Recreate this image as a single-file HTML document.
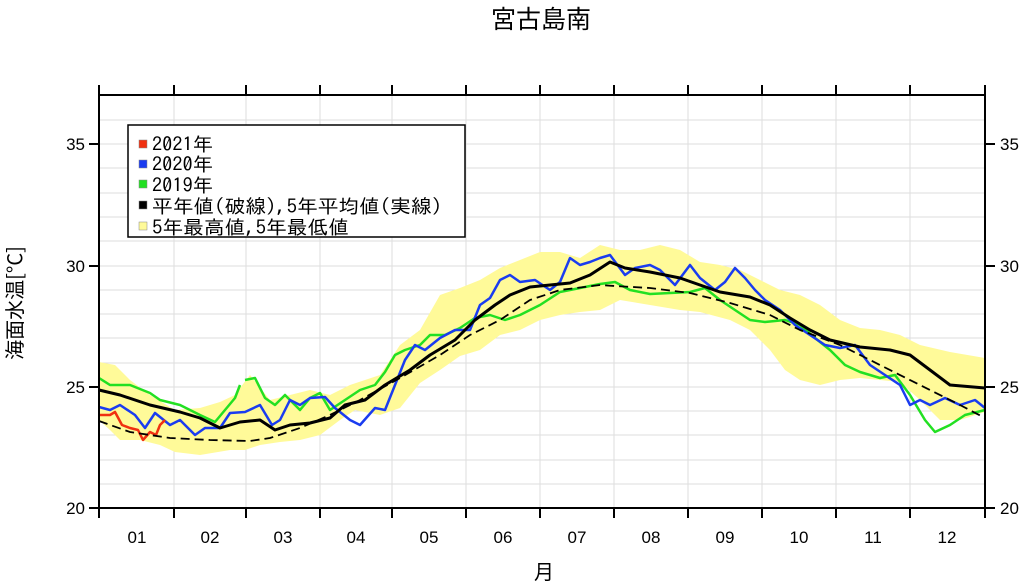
<!DOCTYPE html>
<html><head><meta charset="utf-8"><style>
body{margin:0;background:#fff;width:1024px;height:582px;overflow:hidden}
text{font-family:"Liberation Sans","Noto Sans CJK JP",sans-serif;fill:#000}
.cjk{font-family:"Noto Sans CJK JP",sans-serif}
.ipa{font-family:"IPAGothic","Noto Sans CJK JP",sans-serif}
</style></head><body>
<svg width="1024" height="582" viewBox="0 0 1024 582">
<text x="541" y="28" font-size="25" text-anchor="middle" class="cjk">宮古島南</text>
<g stroke="#ddd" stroke-width="1">
<path d="M99 120H985M99 144H985M99 168H985M99 193H985M99 217H985M99 241H985M99 266H985M99 290H985M99 314H985M99 338H985M99 363H985M99 387H985M99 411H985M99 435H985M99 460H985M99 484H985"/>
<path d="M174 95V508M246 95V508M320 95V508M392 95V508M466 95V508M540 95V508M614 95V508M688 95V508M762 95V508M836 95V508M910 95V508"/>
</g>
<polygon fill="#fffa99" points="99,362 115,365 130,380 150,395 175,410 200,408 220,402 235,395 240,388 250,375 270,400 290,395 310,390 330,395 350,385 380,375 400,345 420,330 440,295 460,288 480,280 500,268 520,260 540,252 560,252 580,258 600,245 620,250 640,250 660,245 680,250 700,262 720,265 740,270 760,280 780,290 800,295 820,305 840,320 860,328 880,330 900,335 920,345 950,352 985,358 985,412 960,420 940,420 920,400 900,382 880,380 860,378 840,380 820,385 800,380 785,370 770,350 750,330 730,320 700,312 680,310 650,305 620,300 600,310 580,312 560,315 540,320 520,330 500,335 480,350 460,356 440,370 420,383 400,408 380,415 355,410 340,420 320,435 300,440 280,442 260,445 245,450 230,450 200,455 175,452 160,445 140,440 120,440 110,430 99,420"/>
<g fill="none" stroke-width="2.5" stroke-linejoin="round">
<polyline stroke="#22e022" points="99,378 110,385 130,385 150,393 160,400 180,405 200,415 215,422 225,410 235,398 240,385"/>
<polyline stroke="#22e022" points="245,380 255,378 265,398 275,405 285,395 300,410 310,398 320,393 330,410 345,400 360,390 375,385 385,372 395,355 405,350 420,345 430,335 445,335 460,328 475,318 490,315 505,320 520,315 540,305 560,292 580,288 600,284 615,282 630,290 650,294 670,293 690,292 705,288 720,300 735,310 750,320 765,322 785,320 800,325 815,338 830,350 845,365 860,372 880,378 895,375 910,395 925,420 935,432 950,425 965,415 985,410"/>
<polyline stroke="#1a3cf0" points="99,407 110,410 120,405 135,415 145,428 155,413 170,425 180,420 195,435 205,428 220,428 230,413 245,412 260,405 272,425 280,420 290,400 300,405 310,398 325,397 335,408 350,420 360,425 375,408 385,410 395,385 405,360 415,345 425,350 440,338 455,330 470,330 480,305 490,298 500,280 510,275 520,282 535,280 550,290 560,282 570,258 580,265 590,262 600,258 610,255 625,275 635,268 650,265 660,270 675,285 690,265 700,278 715,290 725,282 735,268 745,278 755,290 765,300 780,310 795,325 810,335 825,345 840,348 855,345 870,365 885,375 900,385 910,405 920,400 930,405 945,398 960,405 975,400 985,408"/>
<polyline stroke="#f03010" points="99,415 110,415 115,412 122,425 130,428 138,430 143,440 150,432 156,435 160,425 165,420"/>
<polyline stroke="#000" stroke-width="3" points="99,390 120,395 150,405 180,412 200,418 220,428 240,422 260,420 275,430 290,425 310,423 330,418 345,405 365,400 385,385 410,370 430,355 455,340 475,320 495,305 510,295 530,287 550,285 570,283 590,275 610,262 625,268 650,272 680,278 700,285 720,292 750,297 770,305 790,318 810,330 830,340 860,347 890,350 910,355 930,370 950,385 985,388"/>
<polyline stroke="#000" stroke-width="1.8" stroke-dasharray="9,5" points="99,421 130,432 170,438 210,440 250,441 270,438 300,428 330,415 360,400 400,378 440,355 470,335 500,320 530,300 560,290 600,285 615,286 650,288 690,293 730,303 770,315 800,330 840,345 880,365 920,385 960,405 985,418"/>
</g>
<g stroke="#000" stroke-width="2" fill="none">
<rect x="99" y="95" width="886" height="413"/>
<path d="M89 144H99M89 266H99M89 387H99M89 508H99M985 144H995M985 266H995M985 387H995M985 508H995"/>
<path d="M99 508V518M174 508V518M246 508V518M320 508V518M392 508V518M466 508V518M540 508V518M614 508V518M688 508V518M762 508V518M836 508V518M910 508V518M985 508V518"/>
<path d="M99 85V95M174 85V95M246 85V95M320 85V95M392 85V95M466 85V95M540 85V95M614 85V95M688 85V95M762 85V95M836 85V95M910 85V95M985 85V95"/>
</g>
<g font-size="17">
<text x="85" y="150" text-anchor="end">35</text><text x="85" y="272" text-anchor="end">30</text><text x="85" y="393" text-anchor="end">25</text><text x="85" y="514" text-anchor="end">20</text>
<text x="1000" y="150">35</text><text x="1000" y="272">30</text><text x="1000" y="393">25</text><text x="1000" y="514">20</text>
</g>
<g font-size="17" text-anchor="middle">
<text x="137" y="543">01</text><text x="210" y="543">02</text><text x="283" y="543">03</text><text x="356" y="543">04</text><text x="429" y="543">05</text><text x="503" y="543">06</text><text x="577" y="543">07</text><text x="651" y="543">08</text><text x="725" y="543">09</text><text x="799" y="543">10</text><text x="873" y="543">11</text><text x="947" y="543">12</text>
</g>
<text x="544" y="579" font-size="20" text-anchor="middle" class="cjk">月</text>
<text transform="translate(22,303) rotate(-90)" font-size="20" text-anchor="middle" class="cjk">海面水温[°C]</text>
<rect x="128" y="125" width="337" height="112" fill="#fff" stroke="#000" stroke-width="1.5"/>
<g stroke="#888" stroke-width="0.5">
<rect x="139" y="140" width="8" height="8" fill="#f03010"/>
<rect x="139" y="160" width="8" height="8" fill="#1a3cf0"/>
<rect x="139" y="180" width="8" height="8" fill="#22e022"/>
<rect x="139" y="201" width="8" height="8" fill="#000"/>
<rect x="139" y="222" width="8" height="8" fill="#fffa99"/>
</g>
<g font-size="19">
<text x="152" y="151" class="ipa" textLength="61" lengthAdjust="spacingAndGlyphs">2021年</text>
<text x="152" y="171" class="ipa" textLength="61" lengthAdjust="spacingAndGlyphs">2020年</text>
<text x="152" y="192" class="ipa" textLength="61" lengthAdjust="spacingAndGlyphs">2019年</text>
<text x="152" y="213" class="ipa" textLength="290" lengthAdjust="spacingAndGlyphs">平年値(破線),5年平均値(実線)</text>
<text x="152" y="234" class="ipa" textLength="197" lengthAdjust="spacingAndGlyphs">5年最高値,5年最低値</text>
</g>
</svg>
</body></html>
